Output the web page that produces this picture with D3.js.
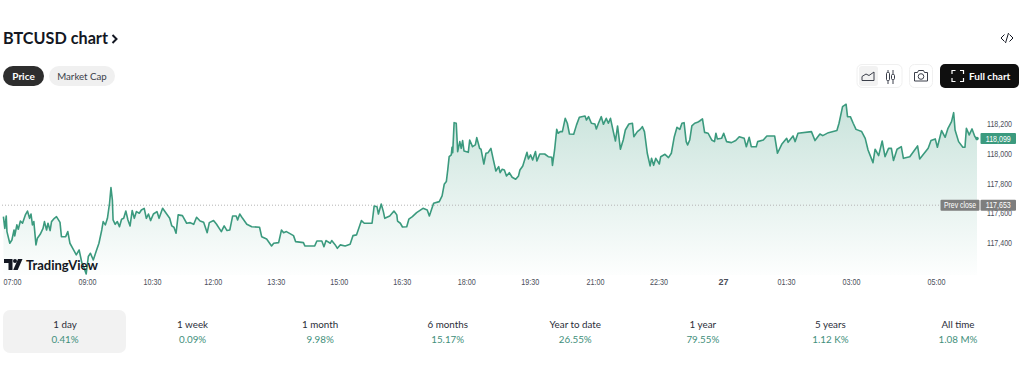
<!DOCTYPE html>
<html>
<head>
<meta charset="utf-8">
<script src="https://cdn.jsdelivr.net/npm/d3@7"></script>
<style>
  html, body { margin: 0; padding: 0; background: #fff; }
  svg { display: block; }
  text { font-family: Lato, sans-serif; }
  .small, .small text { font-family: "Liberation Sans", sans-serif; }
</style>
</head>
<body>
<div id="chart"></div>
<script>
// minutes since 07:00
const minutes = [2,4,6,7,11,14,17,18,21,23,26,29,33,36,39,41,43,45,48,50,54,58,60,63,65,68,70,74,77,82,84,90,93,96,100,105,109,113,115,119,122,125,129,133,137,141,143,146,149,152,154,156,157,160,163,166,169,172,175,178,181,184,187,190,194,197,201,204,207,210,214,219,222,227,232,237,240,243,246,249,255,261,266,271,275,280,285,290,293,299,303,310,314,318,322,326,331,333,336,340,346,353,364,367,374,381,384,391,395,398,402,412,415,426,428,442,445,452,455,458,464,466,471,474,478,
  485,492,496,501,505,508,512,523,526,530,532,536,539,541,548,554,558,559,563,566,572,575,580,586,595,601,604,610,618,622,625,628,630,632,635,636,637,639,642,644,647,649,651,653,659,661,665,669,671,675,677,681,684,687,691,694,698,702,704,707,710,713,717,721,726,730,732,736,742,744,747,750,754,756,760,767,772,777,778,781,784,786,789,792,796,799,802,808,812,816,824,826,829,833,838,840,843,847,850,854,857,860,864,867,870,874,878,881,886,891,893,898,902,905,908,912,916,918,921,924,929,931,937,942,946,950,954,958,
  961,964,967,969,972,975,979,983,986,990,993,998,1003,1007,1009,1011,1017,1020,1024,1031,1037,1042,1049,1052,1056,1059,1066,1068,1076,1081,1092,1096,1102,1109,1111,1118,1121,1125,1144,1149,1156,1160,1168,1180,1183,1188,1190,1193,1195,1199,1203,1207,1215,1220,1224,1231,1234,1239,1244,1248,1253,1257,1260,1265,1271,1274,1283,1294,1297,1309,1313,1319,1322,1328,1333,1337,1342,1345,1347,1352,1358,1361,1363,1367,1371,1375,1378];

const prices = [117576,117498,117581,117476,117398,117420,117487,117447,117521,117492,117547,117532,117588,117614,117565,117594,117521,117543,117387,117431,117458,117498,117543,117487,117532,117483,117543,117565,117576,117538,117442,117442,117476,117398,117364,117320,117353,117264,117246,117192,117309,117331,117286,117342,117398,117487,117543,117521,117565,117666,117771,117688,117554,117525,117543,117509,117559,117565,117614,117554,117514,117617,117565,117610,117599,117621,117632,117565,117594,117550,117594,117610,117565,117632,117599,117565,117514,117505,117465,117588,117583,117532,117536,117525,117572,117547,117538,117469,117536,117550,117527,117476,117514,117483,117487,117581,117581,117554,117594,117565,117525,117509,117505,117442,117427,117380,117398,117402,117487,117469,117476,117449,117409,117402,117380,117380,117413,117413,117375,117416,117398,117416,117387,117364,117387,
  117380,117391,117449,117454,117509,117550,117532,117532,117648,117643,117594,117661,117610,117565,117581,117614,117588,117547,117532,117507,117509,117559,117576,117603,117632,117621,117581,117666,117677,117715,117793,117811,117889,117978,117990,118041,118005,118206,118202,118012,118079,118034,118086,118016,118007,118090,118045,118057,118106,118034,118028,117929,118001,118005,118034,117967,117882,117911,117871,117894,117889,117849,117871,117840,117827,117849,117889,117916,118007,117963,117990,117956,118012,117949,117996,117996,117978,117974,117920,118023,118161,118135,118146,118146,118235,118202,118130,118128,118191,118242,118251,118224,118246,118202,118197,118164,118202,118246,118195,118235,118202,118235,118146,118083,118184,118028,118090,118157,118197,118202,118112,118146,118161,118179,118146,118001,117916,117967,117920,117967,117929,117978,117994,117972,118001,118108,118175,118161,
  118202,118206,118079,118057,118090,118184,118202,118208,118217,118231,118141,118135,118090,118079,118135,118097,118101,118135,118079,118072,118086,118112,118101,118045,118108,118045,118045,118079,118090,118117,118117,118001,118061,118101,118074,118117,118079,118135,118146,118086,118130,118119,118139,118153,118202,118313,118320,118329,118246,118246,118202,118161,118146,118101,118023,117938,118028,117985,118083,117978,118034,118034,117952,118028,118045,117967,117978,118050,117963,118034,118086,118097,118041,118153,118108,118168,118213,118273,118157,118079,118041,118041,118168,118124,118164,118112,118099];

// where each time label sits on the minute scale
const timeTicks = [0,120,212,298,387,476,565,656,746,838,928,1019,1108,1200,1320];
const timeLabels = ["07:00","09:00","10:30","12:00","13:30","15:00","16:30","18:00","19:30","21:00","22:30","27","01:30","03:00","05:00"];
const priceTicks = [117400,117600,117800,118000,118200];
const prevClose = 117653;
const lastPrice = 118099;

const periods = ["1 day","1 week","1 month","6 months","Year to date","1 year","5 years","All time"];
const changes = ["0.41%","0.09%","9.98%","15.17%","26.55%","79.55%","1.12 K%","1.08 M%"];

const width = 1024, height = 367;
const green = "#3b9a7e";

const svg = d3.select("#chart").append("svg")
    .attr("width", width)
    .attr("height", height);

const x = d3.scaleLinear().domain([0, 1378]).range([2, 977]);
const y = d3.scaleLinear().domain([117200, 118400]).range([272.8, 93.7]);
const points = minutes.map((m, i) => ({ m: m, p: prices[i] }));

// header
svg.append("text").attr("x", 3).attr("y", 43.5)
    .attr("font-size", 16.2).attr("font-weight", 700).attr("fill", "#131722")
    .text("BTCUSD chart");
svg.append("path").attr("d", "M112.500 35l4 4-4 4")
    .attr("fill", "none").attr("stroke", "#131722").attr("stroke-width", 2);
svg.append("path").attr("d", "M1004.500 34.500l-3.500 3.500 3.500 3.500M1009.500 34.500l3.500 3.500-3.500 3.500M1008.500 33l-3 10")
    .attr("fill", "none").attr("stroke", "#131722").attr("stroke-width", 1);

// price / market cap toggle
svg.append("rect").attr("x", 3).attr("y", 66).attr("width", 41).attr("height", 20).attr("rx", 10).attr("fill", "#2e2e2e");
svg.append("text").attr("x", 23.5).attr("y", 79.5).attr("text-anchor", "middle")
    .attr("font-size", 10).attr("font-weight", 700).attr("fill", "#fff").text("Price");
svg.append("rect").attr("x", 49).attr("y", 66).attr("width", 66).attr("height", 20).attr("rx", 10).attr("fill", "#f0f0f0");
svg.append("text").attr("x", 82).attr("y", 79.5).attr("text-anchor", "middle")
    .attr("font-size", 9.7).attr("font-weight", 400).attr("fill", "#3b3f4a").text("Market Cap");

// toolbar buttons
svg.append("rect").attr("x", 857).attr("y", 64.5).attr("width", 45).attr("height", 23).attr("rx", 5)
    .attr("fill", "#fff").attr("stroke", "#f0f0f0");
svg.append("rect").attr("x", 859).attr("y", 66).attr("width", 19).attr("height", 20).attr("rx", 3).attr("fill", "#f2f2f2");
svg.append("path").attr("d", "M862 80.500v-4l4-2.500 3 1.500 5-3.500v8.500z")
    .attr("fill", "none").attr("stroke", "#3b3f4a");
svg.append("path").attr("d", "M888 70v14M893 70v14")
    .attr("stroke", "#3b3f4a");
svg.append("rect").attr("x", 886.5).attr("y", 72.5).attr("width", 3).attr("height", 8).attr("rx", 1)
    .attr("fill", "#fff").attr("stroke", "#3b3f4a");
svg.append("rect").attr("x", 891.5).attr("y", 74.5).attr("width", 3).attr("height", 5).attr("rx", 1)
    .attr("fill", "#fff").attr("stroke", "#3b3f4a");
svg.append("rect").attr("x", 909.5).attr("y", 64.5).attr("width", 23).attr("height", 23).attr("rx", 5)
    .attr("fill", "#fff").attr("stroke", "#f0f0f0");
svg.append("path").attr("d", "M914.500 72.500h3l1-2h5l1 2h3v8.500h-13z")
    .attr("fill", "none").attr("stroke", "#3b3f4a");
svg.append("circle").attr("cx", 921).attr("cy", 76.5).attr("r", 2.8)
    .attr("fill", "none").attr("stroke", "#3b3f4a");
svg.append("rect").attr("x", 940).attr("y", 64).attr("width", 79).attr("height", 24).attr("rx", 5).attr("fill", "#0f0f0f");
svg.append("path").attr("d", "M952 74v-3.500h3.500M960 70.500h3.500v3.500M963.500 78v3.500h-3.500M955.500 81.500h-3.500v-3.500")
    .attr("fill", "none").attr("stroke", "#fff").attr("stroke-width", 1.2);
svg.append("text").attr("x", 969).attr("y", 79.5)
    .attr("font-size", 10).attr("font-weight", 700).attr("fill", "#fff").text("Full chart");

// area fill
const grad = svg.append("defs").append("linearGradient")
    .attr("id", "areaFill").attr("gradientUnits", "userSpaceOnUse")
    .attr("x1", 0).attr("x2", 0).attr("y1", 101).attr("y2", 275);
grad.append("stop").attr("offset", 0).attr("stop-color", green).attr("stop-opacity", 0.28);
grad.append("stop").attr("offset", 1).attr("stop-color", green).attr("stop-opacity", 0.01);

const area = d3.area().x(d => x(d.m)).y0(275).y1(d => y(d.p));
const line = d3.line().x(d => x(d.m)).y(d => y(d.p));

svg.append("path").datum(points).attr("d", area).attr("fill", "url(#areaFill)");

// previous close
svg.append("line")
    .attr("x1", 2).attr("x2", 980)
    .attr("y1", y(prevClose)).attr("y2", y(prevClose))
    .attr("stroke", "#b4b4b4").attr("stroke-width", 1).attr("stroke-dasharray", "1 2");

svg.append("path").datum(points).attr("d", line)
    .attr("fill", "none").attr("stroke", green).attr("stroke-width", 1.6)
    .attr("stroke-linejoin", "round");
svg.append("circle").attr("cx", x(1378)).attr("cy", y(lastPrice)).attr("r", 1.8).attr("fill", green);

// axes
const xAxis = svg.append("g").attr("class", "small").attr("transform", "translate(0,276)")
    .call(d3.axisBottom(x).tickValues(timeTicks).tickSize(0).tickPadding(3)
        .tickFormat((d, i) => timeLabels[i]));
xAxis.select(".domain").remove();
xAxis.selectAll("text")
    .attr("font-size", 9).attr("fill", "#4a4e59")
    .attr("font-weight", d => d === 1019 ? 700 : 400)
    .attr("text-anchor", d => d === 0 ? "start" : "middle")
    .attr("dx", d => d === 0 ? 1 : 0);
xAxis.selectAll("text").filter(d => d !== 1019)
    .attr("textLength", 18).attr("lengthAdjust", "spacingAndGlyphs");

const yAxis = svg.append("g").attr("class", "small").attr("transform", "translate(987,0)")
    .call(d3.axisRight(y).tickValues(priceTicks).tickSize(0).tickPadding(0)
        .tickFormat(d3.format(",")));
yAxis.select(".domain").remove();
yAxis.selectAll("text")
    .attr("font-size", 9).attr("fill", "#4a4e59")
    .attr("textLength", 25).attr("lengthAdjust", "spacingAndGlyphs");

// price tags
const priceTag = (tx, tw, value, fill, label, textW) => {
    svg.append("rect").attr("x", tx).attr("y", y(value) - 5.5).attr("width", tw).attr("height", 11)
        .attr("rx", 1).attr("fill", fill);
    svg.append("text").attr("class", "small").attr("x", tx + tw / 2).attr("y", y(value) + 3.2).attr("text-anchor", "middle")
        .attr("font-size", 9).attr("fill", "#fff")
        .attr("textLength", textW).attr("lengthAdjust", "spacingAndGlyphs").text(label);
};
priceTag(940.5, 39, prevClose, "#7e7e7e", "Prev close", 32);
priceTag(980.5, 35.5, prevClose, "#7e7e7e", d3.format(",")(prevClose), 25);
priceTag(980.5, 35.5, lastPrice, green, d3.format(",")(lastPrice), 25);

// logo
const logo = svg.append("g").attr("fill", "#131722");
logo.append("path").attr("d", "M4 259h8.500v11h-4v-7h-4.500z");
logo.append("circle").attr("cx", 15).attr("cy", 261).attr("r", 2);
logo.append("path").attr("d", "M18 259h4.500l-4.800 11h-4.500z");
logo.append("text").attr("x", 26).attr("y", 269.5)
    .attr("font-size", 13).attr("font-weight", 700).text("TradingView");

// period table
svg.append("rect").attr("x", 3).attr("y", 310).attr("width", 123).attr("height", 43).attr("rx", 7).attr("fill", "#f2f2f2");
const period = d3.scalePoint().domain(periods).range([65, 958]);
svg.selectAll(".period-label").data(periods).join("text")
    .attr("class", "period-label")
    .attr("x", d => period(d)).attr("y", 327.5).attr("text-anchor", "middle")
    .attr("font-size", 9.8).attr("font-weight", 400).attr("fill", "#2a2e39")
    .text(d => d);
svg.selectAll(".period-change").data(changes).join("text")
    .attr("class", "period-change")
    .attr("x", (d, i) => period(periods[i])).attr("y", 342.5).attr("text-anchor", "middle")
    .attr("font-size", 9.8).attr("fill", "#3f8f7b")
    .text(d => d);
</script>
</body>
</html>
